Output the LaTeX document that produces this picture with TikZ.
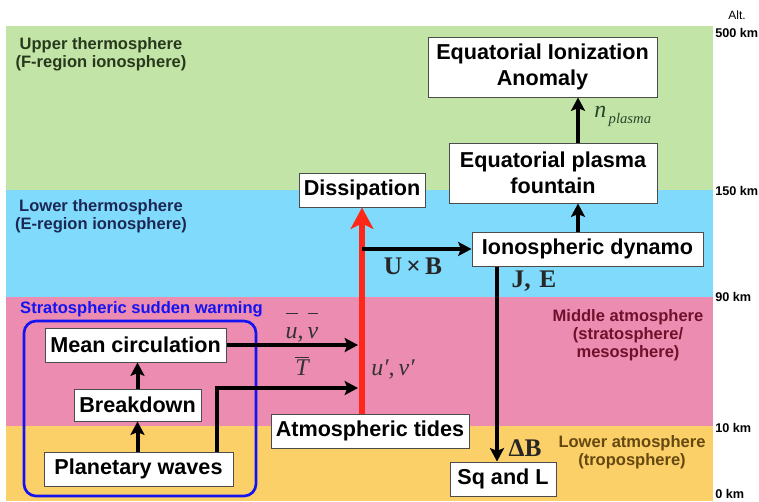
\documentclass[tikz,border=0pt]{standalone}
\usepackage{fontspec}
\setmainfont{Liberation Sans}
\newfontfamily\tms{Liberation Serif}
\usetikzlibrary{arrows.meta}
\definecolor{bgGreen}{RGB}{194,228,166}
\definecolor{bgBlue}{RGB}{128,218,252}
\definecolor{bgPink}{RGB}{236,140,176}
\definecolor{bgYellow}{RGB}{252,208,104}
\definecolor{txGreen}{RGB}{40,56,28}
\definecolor{txNavy}{RGB}{28,40,84}
\definecolor{txRed}{RGB}{112,16,44}
\definecolor{txBrown}{RGB}{100,72,16}
\definecolor{sswBlue}{RGB}{20,20,240}
\definecolor{arrRed}{RGB}{255,40,24}
\definecolor{nGreen}{RGB}{44,70,44}
\begin{document}
\begin{tikzpicture}[x=0.75pt,y=-0.75pt,
  box/.style={draw=black!70, line width=0.75pt, fill=white, inner sep=0pt, align=center,
    font=\bfseries\fontsize{16.2}{19.5}\selectfont},
  reg/.style={font=\bfseries\fontsize{12.4}{13.5}\selectfont, align=center, inner sep=0pt},
  altlab/.style={font=\bfseries\fontsize{9.5}{11}\selectfont, anchor=west, inner sep=0pt},
  blk/.style={line width=3pt, -{Stealth[length=10pt,width=10.5pt,inset=2pt]}},
  redarr/.style={line width=4.2pt, arrRed, -{Stealth[length=16pt,width=17pt,inset=4pt]}},
  mth/.style={font=\tms\fontsize{18}{18}\selectfont, inner sep=0pt},
  bmth/.style={font=\tms\bfseries\fontsize{19}{19}\selectfont, inner sep=0pt, text=black!85}
]
\useasboundingbox (0,0) rectangle (759,501);
% bands
\fill[bgGreen] (6,26) rectangle (713,190);
\fill[bgBlue] (6,190) rectangle (713,297);
\fill[bgPink] (6,297) rectangle (713,426);
\fill[bgYellow] (6,426) rectangle (713,501);

% altitude labels
\node[font=\fontsize{9}{11}\selectfont, inner sep=0pt] (alt) at (737,15) {Alt.};
\node[altlab] (a500) at (715,33) {500 km};
\node[altlab] (a150) at (715,191) {150 km};
\node[altlab] (a90) at (715,297) {90 km};
\node[altlab] (a10) at (715,428) {10 km};
\node[altlab] (a0) at (715,494) {0 km};

% region labels
\node[reg, text=txGreen] (upth) at (101,54) {Upper thermosphere\\(F-region ionosphere)};
\node[reg, text=txNavy] (loth) at (101,216) {Lower thermosphere\\(E-region ionosphere)};
\node[reg, text=txRed] (midat) at (628,335) {Middle atmosphere\\(stratosphere/\\mesosphere)};
\node[reg, text=txBrown] (loat) at (632,452) {Lower atmosphere\\(troposphere)};
\node[reg, text=sswBlue] (sswlab) at (141.5,309) {Stratospheric sudden warming};

% SSW frame
\node[draw=sswBlue, line width=2pt, rounded corners=9pt, minimum width=174pt, minimum height=131.25pt, inner sep=0pt] (ssw) at (140,408.5) {};

% boxes
\node[box, minimum width=171.75pt, minimum height=45pt] (eia) at (542.5,67) {Equatorial Ionization\\Anomaly};
\node[box, minimum width=156pt, minimum height=45pt] (epf) at (553,173) {Equatorial plasma\\fountain};
\node[box, minimum width=94.5pt, minimum height=25.5pt] (diss) at (362,190) {Dissipation};
\node[box, minimum width=173.25pt, minimum height=25.5pt] (dyn) at (587.5,249) {Ionospheric dynamo};
\node[box, minimum width=79.5pt, minimum height=25.5pt] (sq) at (503,479) {Sq and L};
\node[box, minimum width=148.5pt, minimum height=25.5pt] (tides) at (370,431) {Atmospheric tides};
\node[box, minimum width=135.75pt, minimum height=25.5pt] (mc) at (135.5,345) {Mean circulation};
\node[box, minimum width=95.25pt, minimum height=24pt] (bd) at (137.5,405) {Breakdown};
\node[box, minimum width=141.75pt, minimum height=25.5pt] (pw) at (138.5,469) {Planetary waves};

% helper coordinates
\coordinate (xf) at (578,0);
\coordinate (xj) at (497,0);
\coordinate (rl) at (358,0);
\coordinate (pwk) at (217,388);

% connectors
\draw[redarr] (tides.north -| diss) -- (diss.south);
\draw[blk] (epf.north -| xf) -- (eia.south -| xf);
\draw[blk] (dyn.north -| xf) -- (epf.south -| xf);
\draw[blk] (dyn.west -| diss) -- (dyn.west);
\draw[blk] (dyn.south -| xj) -- (sq.north -| xj);
\draw[blk] (mc.east) -- (mc.east -| rl);
\draw[blk] (pw.north -| pwk) -- (pwk) -- (pwk -| rl);
\draw[blk] (pw.north -| bd) -- (bd.south);
\draw[blk] (bd.north) -- (mc.south -| bd.north);

% math labels
\node[bmth] (uxb) at (413,266) {U\,×\,B};
\node[bmth] (je) at (534,281) {J,\hspace{0.35em}E};
\node[bmth] (db) at (525,448) {ΔB};
\node[mth, anchor=base, text=black!80] (uv) at (302,338) {$\overline{\mbox{\rule{0pt}{0.95em}\itshape u}}$,\,$\overline{\mbox{\rule{0pt}{0.95em}\itshape v}}$};
\node[mth, anchor=base, text=black!80] (tt) at (302,375) {$\overline{\mbox{\itshape T}}$};
\node[mth, text=black!80] (uvp) at (393,369) {\itshape u′,\,v′};
\node[mth, anchor=base west, text=nGreen] (np) at (594,117) {\itshape n\raisebox{-5pt}{\fontsize{11}{11}\selectfont\,plasma}};
\end{tikzpicture}
\end{document}
